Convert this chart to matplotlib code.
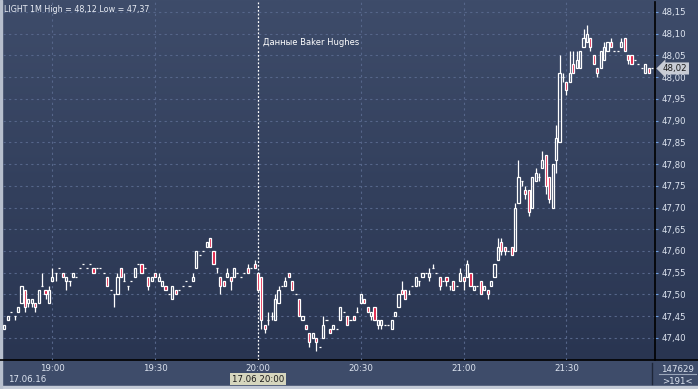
import matplotlib
matplotlib.use('Agg')
import matplotlib.pyplot as plt
import matplotlib.transforms as mtransforms
from matplotlib.patches import Rectangle
import numpy as np

# 1-minute candles, 18:46 .. 21:55
opens = [47.42, 47.44, 47.46, 47.45, 47.46, 47.48, 47.51, 47.48, 47.48, 47.48,
         47.48, 47.52, 47.51, 47.48, 47.53, 47.55, 47.56, 47.55, 47.53, 47.53,
         47.54, 47.54, 47.56, 47.57, 47.56, 47.57, 47.56, 47.56, 47.56, 47.55,
         47.54, 47.51, 47.50, 47.50, 47.56, 47.53, 47.52, 47.53, 47.54, 47.57,
         47.57, 47.56, 47.54, 47.53, 47.55, 47.53, 47.52, 47.52, 47.50, 47.49,
         47.51, 47.51, 47.52, 47.53, 47.52, 47.53, 47.56, 47.59, 47.60, 47.61,
         47.63, 47.60, 47.56, 47.54, 47.53, 47.54, 47.54, 47.54, 47.55, 47.54,
         47.55, 47.56, 47.56, 47.57, 47.55, 47.54, 47.43, 47.44, 47.45, 47.44,
         47.48, 47.52, 47.52, 47.55, 47.53, 47.50, 47.49, 47.44, 47.43, 47.41,
         47.40, 47.40, 47.38, 47.40, 47.44, 47.42, 47.42, 47.42, 47.44, 47.46,
         47.45, 47.44, 47.45, 47.46, 47.48, 47.49, 47.47, 47.45, 47.47, 47.43,
         47.43, 47.43, 47.43, 47.42, 47.45, 47.47, 47.51, 47.51, 47.50, 47.52,
         47.52, 47.53, 47.54, 47.55, 47.54, 47.56, 47.55, 47.54, 47.53, 47.54,
         47.52, 47.53, 47.52, 47.53, 47.54, 47.54, 47.55, 47.51, 47.52, 47.53,
         47.51, 47.51, 47.52, 47.54, 47.58, 47.62, 47.61, 47.60, 47.61, 47.60,
         47.71, 47.76, 47.74, 47.74, 47.70, 47.76, 47.77, 47.79, 47.82, 47.77,
         47.70, 47.81, 47.85, 48.00, 47.99, 47.99, 48.03, 48.02, 48.02, 48.07,
         48.08, 48.09, 48.05, 48.02, 48.02, 48.04, 48.06, 48.08, 48.06, 48.06,
         48.07, 48.09, 48.05, 48.05, 48.04, 48.03, 48.02, 48.01, 48.02, 48.02]
highs = [47.43, 47.45, 47.46, 47.45, 47.47, 47.52, 47.51, 47.49, 47.49, 47.48,
         47.51, 47.55, 47.51, 47.52, 47.56, 47.55, 47.56, 47.55, 47.54, 47.53,
         47.55, 47.54, 47.56, 47.57, 47.56, 47.57, 47.56, 47.56, 47.56, 47.55,
         47.54, 47.51, 47.50, 47.55, 47.56, 47.55, 47.52, 47.53, 47.56, 47.57,
         47.57, 47.56, 47.54, 47.54, 47.55, 47.55, 47.53, 47.52, 47.50, 47.52,
         47.51, 47.51, 47.52, 47.53, 47.52, 47.55, 47.60, 47.59, 47.60, 47.62,
         47.63, 47.60, 47.56, 47.54, 47.53, 47.56, 47.54, 47.56, 47.55, 47.54,
         47.55, 47.57, 47.56, 47.58, 47.55, 47.54, 47.43, 47.46, 47.46, 47.50,
         47.52, 47.52, 47.54, 47.55, 47.53, 47.50, 47.49, 47.45, 47.43, 47.41,
         47.41, 47.40, 47.38, 47.45, 47.44, 47.42, 47.43, 47.42, 47.47, 47.46,
         47.45, 47.44, 47.45, 47.47, 47.50, 47.49, 47.47, 47.46, 47.47, 47.44,
         47.44, 47.43, 47.43, 47.44, 47.46, 47.50, 47.53, 47.51, 47.51, 47.52,
         47.54, 47.53, 47.55, 47.55, 47.56, 47.57, 47.55, 47.54, 47.53, 47.54,
         47.52, 47.53, 47.52, 47.56, 47.54, 47.58, 47.55, 47.52, 47.52, 47.53,
         47.52, 47.51, 47.53, 47.57, 47.63, 47.63, 47.61, 47.60, 47.61, 47.71,
         47.81, 47.76, 47.75, 47.74, 47.77, 47.79, 47.78, 47.83, 47.82, 47.77,
         47.80, 47.89, 48.05, 48.01, 47.99, 48.06, 48.06, 48.06, 48.06, 48.11,
         48.12, 48.09, 48.05, 48.02, 48.06, 48.08, 48.08, 48.09, 48.06, 48.06,
         48.09, 48.09, 48.05, 48.05, 48.04, 48.03, 48.02, 48.03, 48.02, 48.02]
lows = [47.42, 47.44, 47.46, 47.44, 47.46, 47.48, 47.46, 47.47, 47.47, 47.46,
        47.48, 47.52, 47.49, 47.48, 47.53, 47.53, 47.56, 47.54, 47.51, 47.52,
        47.54, 47.54, 47.56, 47.57, 47.56, 47.57, 47.55, 47.56, 47.56, 47.55,
        47.52, 47.51, 47.47, 47.50, 47.54, 47.53, 47.51, 47.53, 47.54, 47.57,
        47.55, 47.56, 47.51, 47.53, 47.54, 47.53, 47.52, 47.51, 47.50, 47.49,
        47.50, 47.51, 47.52, 47.53, 47.52, 47.53, 47.56, 47.59, 47.60, 47.61,
        47.61, 47.57, 47.55, 47.50, 47.52, 47.54, 47.51, 47.54, 47.55, 47.54,
        47.55, 47.55, 47.56, 47.56, 47.51, 47.42, 47.41, 47.43, 47.44, 47.44,
        47.48, 47.52, 47.52, 47.54, 47.51, 47.50, 47.45, 47.44, 47.42, 47.38,
        47.40, 47.37, 47.38, 47.40, 47.44, 47.41, 47.42, 47.42, 47.44, 47.46,
        47.43, 47.44, 47.44, 47.46, 47.48, 47.48, 47.46, 47.44, 47.44, 47.42,
        47.42, 47.43, 47.43, 47.42, 47.45, 47.47, 47.50, 47.49, 47.50, 47.52,
        47.52, 47.52, 47.54, 47.55, 47.53, 47.56, 47.55, 47.51, 47.53, 47.52,
        47.51, 47.51, 47.52, 47.53, 47.51, 47.54, 47.52, 47.51, 47.52, 47.50,
        47.51, 47.49, 47.52, 47.54, 47.58, 47.59, 47.59, 47.60, 47.59, 47.60,
        47.71, 47.75, 47.72, 47.68, 47.70, 47.76, 47.76, 47.79, 47.73, 47.71,
        47.70, 47.78, 47.85, 47.99, 47.96, 47.99, 48.01, 48.02, 48.02, 48.07,
        48.08, 48.06, 48.03, 48.00, 48.02, 48.04, 48.06, 48.07, 48.06, 48.06,
        48.07, 48.06, 48.03, 48.03, 48.04, 48.03, 48.02, 48.01, 48.01, 48.02]
closes = [47.43, 47.45, 47.46, 47.45, 47.47, 47.52, 47.47, 47.49, 47.49, 47.47,
          47.51, 47.52, 47.50, 47.51, 47.54, 47.55, 47.56, 47.54, 47.54, 47.53,
          47.55, 47.54, 47.56, 47.57, 47.56, 47.57, 47.55, 47.56, 47.56, 47.55,
          47.52, 47.51, 47.50, 47.54, 47.54, 47.53, 47.52, 47.53, 47.56, 47.57,
          47.55, 47.56, 47.52, 47.54, 47.54, 47.54, 47.53, 47.51, 47.50, 47.52,
          47.50, 47.51, 47.52, 47.53, 47.52, 47.54, 47.60, 47.59, 47.60, 47.62,
          47.61, 47.57, 47.56, 47.52, 47.52, 47.55, 47.53, 47.56, 47.55, 47.54,
          47.55, 47.55, 47.56, 47.56, 47.51, 47.44, 47.42, 47.44, 47.45, 47.49,
          47.51, 47.52, 47.53, 47.54, 47.51, 47.50, 47.45, 47.45, 47.42, 47.39,
          47.41, 47.39, 47.38, 47.43, 47.44, 47.41, 47.43, 47.42, 47.47, 47.46,
          47.43, 47.44, 47.44, 47.46, 47.50, 47.48, 47.46, 47.46, 47.44, 47.44,
          47.44, 47.43, 47.43, 47.44, 47.46, 47.50, 47.50, 47.49, 47.50, 47.52,
          47.54, 47.53, 47.55, 47.55, 47.55, 47.56, 47.55, 47.52, 47.53, 47.53,
          47.52, 47.51, 47.52, 47.55, 47.53, 47.57, 47.52, 47.52, 47.52, 47.50,
          47.52, 47.50, 47.53, 47.57, 47.61, 47.60, 47.60, 47.60, 47.59, 47.70,
          47.77, 47.76, 47.73, 47.69, 47.77, 47.78, 47.77, 47.81, 47.75, 47.72,
          47.80, 47.86, 48.01, 48.00, 47.97, 48.01, 48.01, 48.04, 48.06, 48.09,
          48.10, 48.07, 48.03, 48.01, 48.06, 48.07, 48.08, 48.07, 48.06, 48.06,
          48.08, 48.06, 48.04, 48.03, 48.04, 48.03, 48.02, 48.03, 48.01, 48.02]

time_ticks = [14, 44, 74, 104, 134, 164]
time_labels = ['19:00', '19:30', '20:00', '20:30', '21:00', '21:30']
news_idx = 74
price_levels = [47.40, 47.45, 47.50, 47.55, 47.60, 47.65, 47.70, 47.75, 47.80,
                47.85, 47.90, 47.95, 48.00, 48.05, 48.10, 48.15]
price_labels = ['47,40', '47,45', '47,50', '47,55', '47,60', '47,65', '47,70', '47,75',
                '47,80', '47,85', '47,90', '47,95', '48,00', '48,05', '48,10', '48,15']
last_price = 48.02

W, H = 698, 389
fig = plt.figure(figsize=(W / 100, H / 100), dpi=100)

# background: gradient for chart area, lighter strip below
bg = fig.add_axes([0, 0, 1, 1])
bg.set_xlim(0, W)
bg.set_ylim(0, H)
bg.axis('off')
top_c = np.array([62, 76, 106]) / 255
bot_c = np.array([41, 53, 81]) / 255
t = np.linspace(0, 1, 200)[:, None, None]
grad = top_c + (bot_c - top_c) * t
bg.imshow(grad, extent=[0, W, H - 360, H], aspect='auto', zorder=0)
bg.add_patch(Rectangle((0, 3), W, 26, color='#3e4c6a', zorder=1))
bg.add_patch(Rectangle((0, 0), W, 3, color='#c3cad6', zorder=2))
bg.add_patch(Rectangle((0, 0), 2, H, color='#b7bfcd', zorder=2))
bg.plot([0, W], [H - 360, H - 360], color='black', lw=1.2, zorder=3)
bg.plot([651.5, 651.5], [5, 26], color='#1e2638', lw=1.0, zorder=3)
bg.plot([659, 696], [15, 15], color='#9aa6ba', lw=0.8, zorder=3)

ax = fig.add_axes([3 / W, (H - 360) / H, 652 / W, 358 / H])
ax.set_facecolor('none')
x = np.arange(len(opens))
ax.set_xlim(-0.41, 189.85)
ax.set_ylim(47.349, 48.173)

for s in ['top', 'left', 'bottom']:
    ax.spines[s].set_visible(False)
ax.spines['right'].set_color('black')
ax.spines['right'].set_linewidth(1.2)

# grid
grid_kw = dict(color='#56668a', lw=0.8, linestyle=(0, (2, 3)), zorder=1)
for lv in price_levels:
    ax.axhline(lv, **grid_kw)
for tk in time_ticks:
    if tk != news_idx:
        ax.axvline(tk, **grid_kw)
ax.axvline(news_idx, color='white', lw=0.9, linestyle=(0, (1.5, 1.5)), zorder=2)

# candles
o = np.array(opens)
c = np.array(closes)
body_lo = np.minimum(o, c)
body_hi = np.maximum(o, c)
fills = ['#e0143c' if cc < oo else 'none' for oo, cc in zip(opens, closes)]
ax.vlines(x, body_hi, highs, color='white', lw=0.9, zorder=3)
ax.vlines(x, lows, body_lo, color='white', lw=0.9, zorder=3)
ax.bar(x, body_hi - body_lo, bottom=body_lo, width=0.62, color=fills,
       edgecolor='white', linewidth=0.9, zorder=4)

# axes ticks
ax.yaxis.tick_right()
ax.set_yticks(price_levels)
ax.set_yticklabels(price_labels)
ax.tick_params(axis='y', length=2.5, width=0.8, color='#6e9ee0', pad=2,
               labelsize=6.2, labelcolor='#dde4f0')
ax.set_xticks(time_ticks)
ax.set_xticklabels(time_labels)
ax.tick_params(axis='x', length=0, pad=3, labelsize=6.2, labelcolor='#dde4f0')

# last price marker
tr = mtransforms.blended_transform_factory(ax.transAxes, ax.transData)
ax.text(1.012, last_price, '48,02', transform=tr, ha='left', va='center',
        fontsize=6.2, color='#1a1a1a', zorder=6, clip_on=False,
        bbox=dict(boxstyle='larrow,pad=0.18', fc='#c8ccd5', ec='none'))

# texts
fig.text(4 / W, 1 - 9 / H, 'LIGHT 1M High = 48,12 Low = 47,37', fontsize=5.8,
         color='#e8ecf4', va='center', ha='left')
ax.text(news_idx + 1.5, 48.08, 'Данные Baker Hughes', fontsize=6.0, color='white',
        va='center', ha='left', zorder=5)
fig.text(8 / W, 1 - 379 / H, '17.06.16', fontsize=6.2, color='#dde4f0', va='center')
fig.text(258 / W, 1 - 379 / H, '17.06 20:00', fontsize=6.2, color='#1a1a1a',
         va='center', ha='center',
         bbox=dict(boxstyle='square,pad=0.2', fc='#d6d6be', ec='none'))
fig.text(677 / W, 1 - 369 / H, '147629', fontsize=6.2, color='#dde4f0',
         va='center', ha='center')
fig.text(677 / W, 1 - 381 / H, '>191<', fontsize=6.2, color='#dde4f0',
         va='center', ha='center')

fig.savefig('out.png', dpi=100)
